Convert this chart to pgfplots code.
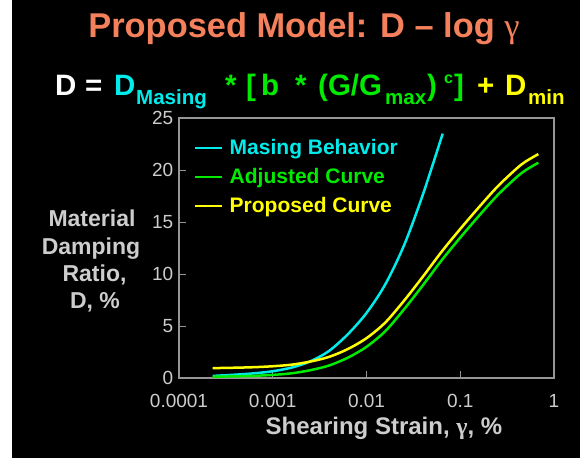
\documentclass[border=0pt]{standalone}
\usepackage{pgfplots}
\pgfplotsset{compat=1.18}
\usepackage{fontspec}
\setmainfont{Liberation Sans}
\newfontfamily\seriffont{Liberation Serif}
\definecolor{titlec}{RGB}{245,128,92}
\definecolor{mcyan}{RGB}{0,235,235}
\definecolor{mgreen}{RGB}{0,235,0}
\definecolor{myellow}{RGB}{255,255,0}
\definecolor{labgray}{RGB}{205,205,205}
\definecolor{framegray}{RGB}{150,150,150}
\tikzset{
  fm/.style={anchor=base west, inner sep=0pt, font=\fontsize{29.5}{31}\selectfont\bfseries},
  fs/.style={anchor=base west, inner sep=0pt, font=\fontsize{20.5}{22}\selectfont\bfseries},
  fsup/.style={anchor=base west, inner sep=0pt, font=\fontsize{16}{18}\selectfont\bfseries},
  yl/.style={anchor=base, inner sep=0pt, text=labgray, font=\fontsize{23}{26}\selectfont\bfseries}
}
\begin{document}
\begin{tikzpicture}
\useasboundingbox (0pt,0pt) rectangle (580pt,-458pt);
\fill[white] (0pt,0pt) rectangle (580pt,-458pt);
\fill[black] (12pt,0pt) rectangle (580pt,-458pt);
% title
\node[anchor=base, inner sep=0pt, text=titlec, font=\fontsize{34.4}{37}\selectfont\bfseries] at (304pt,-37pt) {Proposed Model: D – log {\seriffont\mdseries γ}};
% formula
\node[fm,text=white] at (55pt,-95pt) {D};
\node[fm,text=white] at (85pt,-95pt) {=};
\node[fm,text=mcyan] at (114pt,-95pt) {D};
\node[fs,text=mcyan] at (136pt,-104pt) {Masing};
\node[fm,text=mgreen] at (225pt,-95pt) {*};
\node[fm,text=mgreen] at (246pt,-95pt) {[};
\node[fm,text=mgreen] at (261pt,-95pt) {b};
\node[fm,text=mgreen] at (295pt,-95pt) {*};
\node[fm,text=mgreen] at (318pt,-95pt) {(G/G};
\node[fs,text=mgreen] at (385pt,-104pt) {max};
\node[fm,text=mgreen] at (427pt,-95pt) {)};
\node[fsup,text=mgreen] at (444pt,-83pt) {c};
\node[fm,text=mgreen] at (454pt,-95pt) {]};
\node[fm,text=myellow] at (477pt,-95pt) {+};
\node[fm,text=myellow] at (505pt,-95pt) {D};
\node[fs,text=myellow] at (528pt,-104pt) {min};
% y label
\node[yl] at (92pt,-226.7pt) {Material};
\node[yl] at (91pt,-254pt) {Damping};
\node[yl] at (94.5pt,-281.7pt) {Ratio,};
\node[yl] at (95pt,-308.3pt) {D, \%};
% x label
\node[anchor=base, inner sep=0pt, text=labgray, font=\fontsize{24}{26}\selectfont\bfseries] at (384pt,-434pt) {Shearing Strain, {\seriffont γ}, \%};
\begin{axis}[
  at={(179pt,-378pt)}, anchor=south west,
  width=375pt, height=260pt, scale only axis,
  xmode=log, xmin=1e-4, xmax=1, ymin=0, ymax=25,
  xtick={1e-4,1e-3,1e-2,1e-1,1},
  xticklabels={0.0001,0.001,0.01,0.1,1},
  ytick={0,5,10,15,20,25},
  yticklabels={0,5,10,15,20,25},
  xminorticks=false, yminorticks=false,
  tick align=inside, major tick length=7pt,
  xtick pos=left, ytick pos=left,
  axis line style={draw=framegray, line width=1.2pt},
  every tick/.style={draw=framegray, line width=1pt},
  tick label style={font=\fontsize{19}{22}\selectfont, text=labgray, inner sep=0pt},
  yticklabel style={xshift=-5.5pt},
  xticklabel style={yshift=-16pt},
  legend style={draw=none, fill=none, at={(axis description cs:0.0393,0.9165)}, anchor=north west,
    inner sep=0pt, outer sep=0pt, row sep=12.3pt, column sep=6.5pt,
    nodes={inner sep=0pt}, font=\fontsize{21}{24}\selectfont\bfseries},
  legend image code/.code={\draw[#1] (0pt,0pt) -- (27pt,0pt); \path (0pt,-4.5pt);},
  legend cell align=left,
]
\addplot[mcyan, line width=2.5pt, smooth] coordinates {
(2.29e-4,0.2) (3.98e-4,0.32) (6.31e-4,0.45) (1e-3,0.65) (1.585e-3,1.0) (2.512e-3,1.6)
(3.981e-3,2.6) (6.31e-3,4.2) (0.01,6.25) (0.01585,9.0) (0.02512,12.75) (0.03981,17.6) (0.065,23.5)};
\addlegendentry{\textcolor{mcyan}{Masing Behavior}}
\addplot[mgreen, line width=2.5pt, smooth] coordinates {
(2.29e-4,0.12) (3.98e-4,0.16) (6.31e-4,0.21) (1e-3,0.30) (1.585e-3,0.45) (2.512e-3,0.75)
(3.981e-3,1.2) (6.31e-3,1.95) (0.01,3.0) (0.01585,4.5) (0.02512,6.6) (0.03981,8.9)
(0.0631,11.3) (0.1,13.5) (0.1585,15.6) (0.2512,17.6) (0.3981,19.3) (0.5012,20.0) (0.681,20.7)};
\addlegendentry{\textcolor{mgreen}{Adjusted Curve}}
\addplot[myellow, line width=2.5pt, smooth] coordinates {
(2.29e-4,0.95) (3.98e-4,0.99) (6.31e-4,1.04) (1e-3,1.13) (1.585e-3,1.28) (2.512e-3,1.58)
(3.981e-3,2.03) (6.31e-3,2.78) (0.01,3.83) (0.01585,5.33) (0.02512,7.43) (0.03981,9.73)
(0.0631,12.13) (0.1,14.33) (0.1585,16.43) (0.2512,18.43) (0.3981,20.13) (0.5012,20.83) (0.681,21.53)};
\addlegendentry{\textcolor{myellow}{Proposed Curve}}
\end{axis}
\end{tikzpicture}
\end{document}
